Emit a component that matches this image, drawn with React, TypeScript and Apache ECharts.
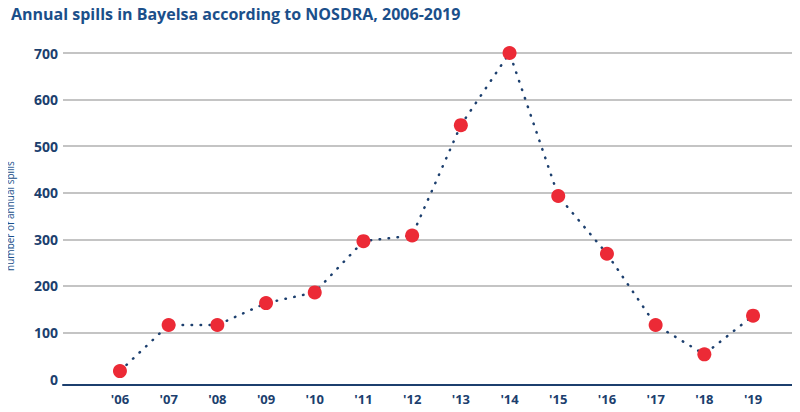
import React, { useEffect, useRef } from "react";
import * as echarts from "echarts";

const years = [2006, 2007, 2008, 2009, 2010, 2011, 2012, 2013, 2014, 2015, 2016, 2017, 2018, 2019];
const spills = [17, 116, 116, 163, 186, 296, 308, 545, 700, 393, 269, 116, 53, 136];
const yTicks = [0, 100, 200, 300, 400, 500, 600, 700];

const TITLE = "Annual spills in Bayelsa according to NOSDRA, 2006-2019";
const Y_NAME = "number of annual spills";

const NAVY = "#1c3f6e";
const BLUE = "#1b4f8a";

export default function App() {
  const ref = useRef<HTMLDivElement>(null);
  useEffect(() => {
    if (!ref.current) return;
    const chart = echarts.init(ref.current, undefined, { renderer: "svg" });
    const step = 48.75;
    chart.setOption({
      animation: false,
      backgroundColor: "#ffffff",
      title: {
        text: TITLE,
        left: 6,
        top: 1,
        textStyle: {
          fontFamily: "Open Sans",
          fontSize: 16,
          fontWeight: 700,
          color: BLUE,
        },
      },
      grid: { left: 63, right: 0, top: 53, bottom: 33, containLabel: false, outerBoundsMode: "none" },
      xAxis: {
        type: "value",
        min: 2006 - (120 - 63) / step,
        max: 2019 + (800 - 753) / step,
        offset: 6,
        axisLine: { show: true, onZero: false, lineStyle: { color: NAVY, width: 2 } },
        axisTick: { show: false },
        splitLine: { show: false },
        axisLabel: {
          customValues: years,
          formatter: (v: number) => "'" + String(Math.round(v)).slice(2),
          color: NAVY,
          fontFamily: "Open Sans",
          fontWeight: 700,
          fontSize: 13,
          margin: 7,
        },
      },
      yAxis: {
        type: "value",
        min: 0,
        max: 700,
        interval: 100,
        name: Y_NAME,
        nameLocation: "middle",
        nameRotate: 90,
        nameGap: 48,
        nameTextStyle: { color: BLUE, fontFamily: "Open Sans", fontSize: 10 },
        axisLine: { show: false },
        axisTick: { show: false },
        axisLabel: {
          color: NAVY,
          fontFamily: "Open Sans",
          fontWeight: 700,
          fontSize: 14,
          margin: 5,
          formatter: (v: number) => (yTicks.includes(v) ? String(v) : ""),
        },
        splitLine: {
          show: true,
          lineStyle: {
            color: ["rgba(0,0,0,0)", "#c4c4c4", "#c4c4c4", "#c4c4c4", "#c4c4c4", "#c4c4c4", "#c4c4c4", "#c4c4c4"],
            width: 2,
          },
        },
      },
      series: [
        {
          type: "line",
          data: years.map((y, i) => [y, spills[i]]),
          symbol: "circle",
          symbolSize: 14,
          itemStyle: { color: "#ec2a36" },
          lineStyle: { color: NAVY, width: 2.5, type: [0.5, 8.5], cap: "round" },
          z: 3,
        },
      ],
    });
    return () => chart.dispose();
  }, []);
  return <div ref={ref} style={{ width: 800, height: 412, margin: -8 }} />;
}
